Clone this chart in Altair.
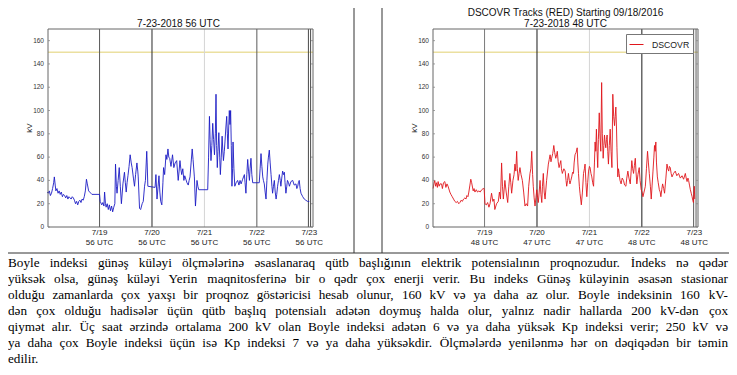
import altair as alt
import pandas as pd

# ------------------------------------------------------------------ data
# hours since 7/18 00:56 UTC and Boyle index (kV)
left_hours = [0, 0.5, 1, 1.5, 2, 2.5, 3, 3.3, 3.7, 4, 4.5, 5, 5.5, 6, 6.5, 7, 7.5, 8, 8.5, 9, 9.5, 10,
              10.5, 11, 11.5, 12, 12.5, 13, 13.5, 14, 14.5, 15, 15.5, 16, 16.5, 17, 17.5, 18, 18.4, 19,
              19.5, 20, 20.5, 21, 24, 24.3, 25, 25.5, 26, 26.3, 26.7, 27, 27.5, 28, 28.5, 29, 29.5, 30,
              30.5, 31, 31.3, 31.7, 32, 32.5, 33, 33.5, 34, 34.7, 35.4, 35.8, 36.2, 36.6, 37, 37.5, 38,
              38.5, 38.9, 39.5, 40, 40.5, 41.1, 41.5, 41.7, 42.3, 42.8, 43.5, 44, 44.6, 45, 45.6, 45.8,
              46.1, 49.4, 49.8, 50.3, 50.8, 51.2, 51.6, 52, 52.5, 53, 53.3, 53.8, 54.4, 54.8, 55.3, 55.7,
              56.1, 56.7, 57.4, 58, 58.6, 59.3, 60, 60.4, 60.8, 61.2, 61.6, 62.1, 62.6, 63, 63.5, 64,
              64.6, 65, 65.4, 65.9, 66.4, 66.8, 67.4, 67.9, 68.3, 68.6, 69, 69.4, 73.5, 73.9, 74.3, 74.6,
              75, 75.4, 75.8, 76.2, 76.6, 77, 77.3, 77.6, 77.9, 78.2, 78.6, 79, 79.3, 79.7, 80.1, 80.4,
              80.7, 81.1, 81.4, 81.8, 82.2, 82.5, 82.8, 83.1, 83.4, 83.7, 84, 84.3, 84.6, 84.9, 85.1,
              85.5, 85.9, 86.5, 87.2, 87.8, 88.3, 88.8, 89.5, 90.3, 90.6, 91, 91.4, 91.8, 92.2, 92.6,
              92.9, 93.3, 93.7, 94.1, 97.1, 97.5, 97.9, 98.3, 98.7, 99, 99.4, 99.8, 100.2, 100.6, 101,
              101.3, 101.7, 102.1, 102.5, 102.9, 103.2, 103.6, 104, 104.4, 104.8, 105.1, 105.5, 105.9,
              106.3, 106.7, 107, 107.4, 107.8, 108.2, 108.6, 108.9, 109.3, 109.7, 110, 110.5, 110.9,
              111.6, 112.4, 113.1, 113.9, 114.3, 114.7, 115, 115.4, 115.8, 116.2, 117, 117.7, 118.4,
              119.2, 120]
left_kv = [30, 29, 31, 27, 29, 33, 38, 43, 36, 31, 33, 29, 31, 28, 30, 26, 28, 27, 25, 27, 24, 26,
           25, 24, 26, 25, 23, 20, 22, 19, 22, 23, 21, 24, 23, 26, 31, 41, 37, 31,
           30, 29, 28, 28, 28, 22, 19, 21, 18, 30, 20, 17, 20, 15, 19, 14, 18, 13,
           17, 20, 54, 35, 29, 40, 51, 35, 20, 37, 47, 38, 30, 38, 44, 52, 62,
           55, 51, 42, 35, 45, 55, 48, 43, 16, 15, 20, 22, 35, 40, 65, 55,
           35, 34, 45, 24, 35, 44, 30, 22, 19, 38, 51, 45, 62, 58, 67, 60,
           59, 52, 62, 51, 55, 57, 40, 48, 57, 50, 45, 50, 40, 44, 41, 38,
           36, 40, 43, 55, 67, 58, 43, 18, 30, 40, 35, 32, 32, 60, 95, 75,
           57, 70, 89, 75, 62, 80, 114, 70, 51, 65, 81, 60, 45, 60, 78, 66,
           57, 65, 73, 85, 95, 80, 67, 85, 100, 88, 100, 70, 35, 50, 73,
           50, 35, 38, 40, 36, 40, 37, 41, 45, 38, 29, 45, 58, 48, 40,
           50, 59, 45, 38, 38, 50, 63, 52, 43, 40, 37, 30, 24, 40, 54,
           60, 66, 55, 45, 35, 29, 35, 40, 30, 24, 28, 35, 40,
           45, 40, 35, 42, 48, 45, 47, 38, 29, 35, 40, 38, 35,
           39, 40, 36, 37, 33, 35, 38, 40, 33, 29, 26, 24, 23,
           22, 22]

right_hours = [0.46, 0.8, 1.2, 1.6, 2.0, 2.4, 2.75, 3.2, 3.6, 4.3, 4.7, 5.2, 5.8, 6.3, 6.8, 7.3, 8.1, 8.6,
               9.2, 9.8, 10.4, 11, 11.6, 12.2, 12.7, 13.3, 13.8, 14.4, 15.0, 15.5, 15.9, 16.4, 16.8,
               17.3, 17.7, 18.1, 18.8, 19.2, 19.6, 20.2, 20.8, 21.4, 22.0, 22.7, 23.4, 23.8, 24.2, 24.8,
               25.4, 26, 26.5, 27.2, 27.8, 28.3, 28.7, 29.5, 30.3, 30.8, 31.3, 31.8, 32.2, 32.6, 33.3,
               33.9, 34.6, 35.1, 35.6, 36, 36.4, 37, 37.5, 37.9, 38.3, 38.7, 39.0, 39.4, 39.8, 40.2,
               40.7, 41.3, 41.9, 42.5, 43.1, 43.7, 44.2, 44.8, 45.2, 45.6, 46.0, 46.3, 46.7, 47.1, 47.5,
               47.9, 48.3, 48.6, 49.0, 49.4, 49.8, 50.2, 50.5, 50.9, 51.3, 51.7, 52.4, 53.2, 53.6, 54.0,
               54.4, 54.7, 55.2, 55.7, 56.1, 56.6, 57.0, 57.3, 57.7, 58.1, 58.5, 58.9, 59.2, 59.6, 60.3,
               60.9, 61.3, 61.6, 62.0, 62.4, 62.8, 63.1, 63.5, 63.9, 64.3, 64.7, 65.0, 65.4, 65.9, 66.4,
               66.7, 67.0, 67.4, 67.7, 68.0, 68.3, 68.8, 69.3, 69.7, 70.0, 70.4, 70.8, 71.2, 71.6, 72.0,
               72.3, 72.7, 73.1, 73.5, 73.9, 74.3, 74.6, 74.9, 75.2, 75.5, 75.8, 76.1, 76.5, 76.8, 77.2,
               77.6, 77.9, 78.3, 78.6, 78.9, 79.2, 79.5, 79.8, 80.1, 80.4, 80.7, 81.1, 81.5, 81.9, 82.3,
               82.7, 83.1, 83.5, 83.8, 84.1, 84.4, 84.6, 85.0, 85.3, 85.6, 86.0, 86.5, 87.0, 87.6, 88.1,
               88.7, 89.1, 89.6, 90.1, 90.7, 91.1, 91.4, 91.8, 92.2, 92.6, 93.0, 93.3, 93.7, 94.2, 94.8,
               95.2, 95.7, 96.1, 96.5, 97.0, 97.6, 98.1, 98.6, 99.0, 99.4, 99.9, 100.3, 100.7, 101.1,
               101.5, 101.8, 102.1, 102.4, 102.7, 103.1, 103.5, 104.0, 104.4, 104.7, 105.1, 105.5,
               106.0, 106.4, 107.0, 107.5, 107.9, 108.3, 108.6, 109.0, 109.4, 109.8, 110.5, 111.3,
               112.0, 112.8, 113.6, 114.4, 115.1, 115.9, 116.3, 116.7, 117.1, 117.4, 117.8, 118.2,
               118.6, 119.0, 119.3, 119.6, 119.8, 120.0, 120.2]
right_kv = [33, 37, 40, 35, 38, 34, 39, 35, 37, 37, 33, 38, 39, 34, 37, 35, 30, 28,
            26, 24, 22, 21, 22, 20, 21, 23, 22, 24, 25, 24, 27, 26, 30,
            36, 41, 38, 31, 33, 30, 32, 30, 31, 30, 32, 33, 33, 20, 19,
            21, 17, 20, 29, 22, 24, 15, 20, 22, 30, 24, 55, 35, 24, 40,
            30, 21, 35, 46, 38, 29, 40, 45, 54, 48, 65, 50, 40, 46, 51,
            45, 40, 30, 18, 20, 18, 35, 46, 50, 65, 45, 35, 25, 18, 25,
            32, 25, 21, 30, 40, 28, 21, 35, 46, 30, 24, 40, 54, 58, 62,
            56, 59, 63, 70, 64, 59, 62, 65, 56, 51, 54, 57, 50, 46, 50,
            48, 40, 35, 40, 46, 40, 37, 40, 43, 47, 46, 55, 62, 64, 68,
            55, 46, 35, 29, 24, 19, 30, 46, 50, 54, 38, 26, 38, 48, 52,
            51, 46, 43, 38, 35, 55, 73, 65, 84, 65, 51, 75, 98, 80, 65,
            124, 80, 59, 70, 79, 72, 68, 75, 79, 65, 54, 70, 84, 65, 51,
            114, 95, 87, 95, 103, 85, 68, 43, 50, 46, 40, 37, 42, 40, 36,
            35, 42, 48, 42, 37, 48, 57, 50, 46, 53, 59, 48, 37, 45, 51,
            40, 32, 30, 26, 30, 35, 50, 65, 55, 46, 35, 24, 36, 48,
            60, 70, 65, 73, 55, 43, 38, 32, 30, 26, 32, 37,
            33, 29, 42, 54, 50, 48, 52, 51, 46, 43, 46, 48,
            44, 46, 42, 44, 41, 46, 42, 39, 42, 40, 36, 32,
            29, 26, 23, 21, 28, 35, 24]

series_name = ["DSCOVR"]
tick_hours = [24, 48, 72, 96, 120]
tick_dates = ["7/19", "7/20", "7/21", "7/22", "7/23"]
left_utc = ["56 UTC", "56 UTC", "56 UTC", "56 UTC", "56 UTC"]
right_utc = ["48 UTC", "47 UTC", "47 UTC", "48 UTC", "48 UTC"]
y_ticks = [0, 20, 40, 60, 80, 100, 120, 140, 160]
y_title = "kV"
threshold_kv = [150]

left_day_lines = [24, 48, 72, 96, 119.6, 120.6]
left_day_colors = ["#5a5a5a", "#2a2a2a", "#d4d4d4", "#5a5a5a", "#4a4a4a", "#4a4a4a"]
right_day_lines = [24, 48, 72, 96, 119.7, 120.8]
right_day_colors = ["#7a7a7a", "#1a1a1a", "#d4d4d4", "#1a1a1a", "#5a5a5a", "#5a5a5a"]

left_title = "7-23-2018 56 UTC"
right_title = ["DSCOVR Tracks (RED) Starting 09/18/2016", "7-23-2018 48 UTC"]

paragraph = [
    "Boyle indeksi günəş küləyi ölçmələrinə əsaslanaraq qütb başlığının elektrik potensialının proqnozudur. İndeks nə qədər",
    "yüksək olsa, günəş küləyi Yerin maqnitosferinə bir o qədr çox enerji verir. Bu indeks Günəş küləyinin əsasən stasionar",
    "olduğu zamanlarda çox yaxşı bir proqnoz göstəricisi hesab olunur, 160 kV və ya daha az olur. Boyle indeksinin 160 kV-",
    "dən çox olduğu hadisələr üçün qütb başlıq potensialı adətən doymuş halda olur, yalnız nadir hallarda 200 kV-dən çox",
    "qiymət alır. Üç saat ərzində ortalama 200 kV olan Boyle indeksi adətən 6 və ya daha yüksək Kp indeksi verir; 250 kV və",
    "ya daha çox Boyle indeksi üçün isə Kp indeksi 7 və ya daha yüksəkdir. Ölçmələrdə yenilənmə hər on dəqiqədən bir təmin",
    "edilir.",
]

# ------------------------------------------------------------------ layout
W, H = 721, 359
PLOT_TOP, PLOT_BOT = 21, 219
X_DOMAIN = [0.4, 121.7]
Y_DOMAIN = [0, 170]
SANS = "Liberation Sans"
SERIF = "Liberation Serif"
SEP_Y = 245
PARA_Y0, PARA_Y1 = 255, 351
PARA_FS = 13.2
PARA_W = 720


def panel(hours, kv, x0, x1, utc, day_lines, day_colors, line_color=None):
    xs = alt.Scale(domain=X_DOMAIN, range=[x0, x1], nice=False, zero=False)
    ys = alt.Scale(domain=Y_DOMAIN, range=[PLOT_BOT, PLOT_TOP], nice=False, zero=False)

    frame_df = pd.DataFrame({"x0": [X_DOMAIN[0]], "x1": [X_DOMAIN[1]], "y0": [Y_DOMAIN[0]], "y1": [Y_DOMAIN[1]]})
    thr_df = pd.DataFrame({"x0": [X_DOMAIN[0]], "x1": [X_DOMAIN[1]], "y": threshold_kv})
    vl_df = pd.DataFrame({"h": day_lines, "c": day_colors, "y0": Y_DOMAIN[0], "y1": Y_DOMAIN[1]})
    df = pd.DataFrame({"h": hours, "kv": kv, "series": series_name[0]})
    xt_df = pd.DataFrame({"h": tick_hours, "d": tick_dates, "u": utc})
    yt_df = pd.DataFrame({"v": y_ticks})

    thr = alt.Chart(thr_df).mark_rule(color="#ebe0a0", strokeWidth=1.6).encode(
        x=alt.X("x0:Q", scale=xs, axis=None), x2="x1:Q",
        y=alt.Y("y:Q", scale=ys, axis=None))
    vl = alt.Chart(vl_df).mark_rule(strokeWidth=1).encode(
        x=alt.X("h:Q", scale=xs, axis=None),
        y=alt.Y("y0:Q", scale=ys, axis=None), y2="y1:Q",
        stroke=alt.Stroke("c:N", scale=None))
    enc = dict(x=alt.X("h:Q", scale=xs, axis=None), y=alt.Y("kv:Q", scale=ys, axis=None))
    if line_color is None:
        line = alt.Chart(df).mark_line(strokeWidth=0.9).encode(
            color=alt.Color("series:N",
                            scale=alt.Scale(domain=series_name, range=["#e0161c"]),
                            legend=alt.Legend(title=None, orient="none", legendX=x1 - 72, legendY=PLOT_TOP + 5,
                                              padding=3, strokeColor="#777", fillColor="white",
                                              symbolType="stroke", symbolSize=196, symbolStrokeWidth=1,
                                              labelFont=SANS, labelFontSize=8.7, labelColor="#222",
                                              labelOffset=8, rowPadding=0)),
            **enc)
    else:
        line = alt.Chart(df).mark_line(strokeWidth=0.9, color=line_color).encode(**enc)
    frame = alt.Chart(frame_df).mark_rect(fillOpacity=0, stroke="#666", strokeWidth=1).encode(
        x=alt.X("x0:Q", scale=xs, axis=None), x2="x1:Q",
        y=alt.Y("y0:Q", scale=ys, axis=None), y2="y1:Q")

    # tick labels drawn as text through the panel scales
    xlab1 = alt.Chart(xt_df).mark_text(font=SANS, fontSize=8, color="#222", align="center",
                                       baseline="middle").encode(
        x=alt.X("h:Q", scale=xs, axis=None), y=alt.value(PLOT_BOT + 6), text="d:N")
    xlab2 = alt.Chart(xt_df).mark_text(font=SANS, fontSize=8, color="#222", align="center",
                                       baseline="middle").encode(
        x=alt.X("h:Q", scale=xs, axis=None), y=alt.value(PLOT_BOT + 15.5), text="u:N")
    ylab = alt.Chart(yt_df).mark_text(font=SANS, fontSize=6.5, color="#333", align="right",
                                      baseline="middle").encode(
        x=alt.value(x0 - 4), y=alt.Y("v:Q", scale=ys, axis=None), text="v:Q")
    ytick_l = alt.Chart(yt_df).mark_rule(color="#888", strokeWidth=0.8).encode(
        x=alt.value(x0), x2=alt.value(x0 + 2), y=alt.Y("v:Q", scale=ys, axis=None))
    ytick_r = alt.Chart(yt_df).mark_rule(color="#888", strokeWidth=0.8).encode(
        x=alt.value(x1 - 2), x2=alt.value(x1), y=alt.Y("v:Q", scale=ys, axis=None))
    ytitle = alt.Chart(pd.DataFrame({"t": [y_title]})).mark_text(
        font=SANS, fontSize=8, color="#222", angle=270, align="center", baseline="middle").encode(
        x=alt.value(x0 - 18), y=alt.value((PLOT_TOP + PLOT_BOT) / 2), text="t:N")
    return alt.layer(thr, vl, line, frame, ytick_l, ytick_r, xlab1, xlab2, ylab, ytitle)


left_panel = panel(left_hours, left_kv, 40, 305, left_utc, left_day_lines, left_day_colors, line_color="#1c1cc4")
right_panel = panel(right_hours, right_kv, 425, 690, right_utc, right_day_lines, right_day_colors)

one = pd.DataFrame({"k": [0]})
title_l = alt.Chart(one).mark_text(text=left_title, font=SANS, fontSize=10, color="#111",
                                   align="center", baseline="middle").encode(
    x=alt.value(170.5), y=alt.value(16))
title_r1 = alt.Chart(one).mark_text(text=right_title[0], font=SANS, fontSize=10, color="#111",
                                    align="center", baseline="middle").encode(
    x=alt.value(557.5), y=alt.value(5.3))
title_r2 = alt.Chart(one).mark_text(text=right_title[1], font=SANS, fontSize=10, color="#111",
                                    align="center", baseline="middle").encode(
    x=alt.value(557.5), y=alt.value(16))

sep_v1 = alt.Chart(one).mark_rule(color="#333", strokeWidth=1).encode(
    x=alt.value(346), y=alt.value(0), y2=alt.value(SEP_Y))
sep_v2 = alt.Chart(one).mark_rule(color="#333", strokeWidth=1).encode(
    x=alt.value(374), y=alt.value(0), y2=alt.value(SEP_Y))
sep_h = alt.Chart(one).mark_rule(color="#333", strokeWidth=1).encode(
    x=alt.value(0), x2=alt.value(W), y=alt.value(SEP_Y))

# ---- justified paragraph (approximate Times metrics for word spacing)
TIMES = {' ': 250, 'a': 444, 'b': 500, 'c': 444, 'd': 500, 'e': 444, 'f': 333, 'g': 500, 'h': 500,
         'i': 278, 'j': 278, 'k': 500, 'l': 278, 'm': 778, 'n': 500, 'o': 500, 'p': 500, 'q': 500,
         'r': 333, 's': 389, 't': 278, 'u': 500, 'v': 500, 'w': 722, 'x': 500, 'y': 500, 'z': 444,
         'ə': 444, 'ç': 444, 'ş': 389, 'ğ': 500, 'ı': 278, 'ö': 500, 'ü': 500,
         'B': 667, 'I': 333, 'İ': 333, 'K': 722, 'Ü': 722, 'Ö': 722, 'Y': 722, 'G': 722, 'V': 722,
         '.': 250, ',': 250, ';': 278, '-': 333}


def tw(s):
    return sum(TIMES.get(ch, 500) for ch in s) * PARA_FS / 1000.0


rows = []
n_lines = len(paragraph)
for li, text_line in enumerate(paragraph):
    words = text_line.split(" ")
    widths = [tw(w) for w in words]
    last_line = li == n_lines - 1
    if last_line or len(words) < 2:
        gap = tw(" ")
    else:
        gap = (PARA_W - sum(widths)) / (len(words) - 1)
    xpos = 0.0
    for wi, (w, wd) in enumerate(zip(words, widths)):
        if (not last_line) and wi == len(words) - 1 and wi > 0:
            rows.append({"word": w, "x": PARA_W, "line": li, "al": "r"})
        else:
            rows.append({"word": w, "x": xpos, "line": li, "al": "l"})
        xpos += wd + gap
words_df = pd.DataFrame(rows)
px = alt.Scale(domain=[0, W], range=[0, W], nice=False, zero=False)
py = alt.Scale(domain=[0, n_lines - 1], range=[PARA_Y0, PARA_Y1], nice=False, zero=False)
para_base = alt.Chart(words_df).encode(
    x=alt.X("x:Q", scale=px, axis=None), y=alt.Y("line:Q", scale=py, axis=None), text="word:N")
para_l = para_base.transform_filter("datum.al == 'l'").mark_text(
    align="left", baseline="middle", font=SERIF, fontSize=PARA_FS, color="#000")
para_r = para_base.transform_filter("datum.al == 'r'").mark_text(
    align="right", baseline="middle", font=SERIF, fontSize=PARA_FS, color="#000")
para = alt.layer(para_l, para_r)

chart = alt.layer(
    left_panel, right_panel, title_l, title_r1, title_r2, sep_v1, sep_v2, sep_h, para
).resolve_scale(x="independent", y="independent").properties(
    width=W, height=H, padding=0, autosize=alt.AutoSizeParams(type="none")
).configure_view(stroke=None)

chart.save("out.html", embed_options={"renderer": "svg", "actions": False})
